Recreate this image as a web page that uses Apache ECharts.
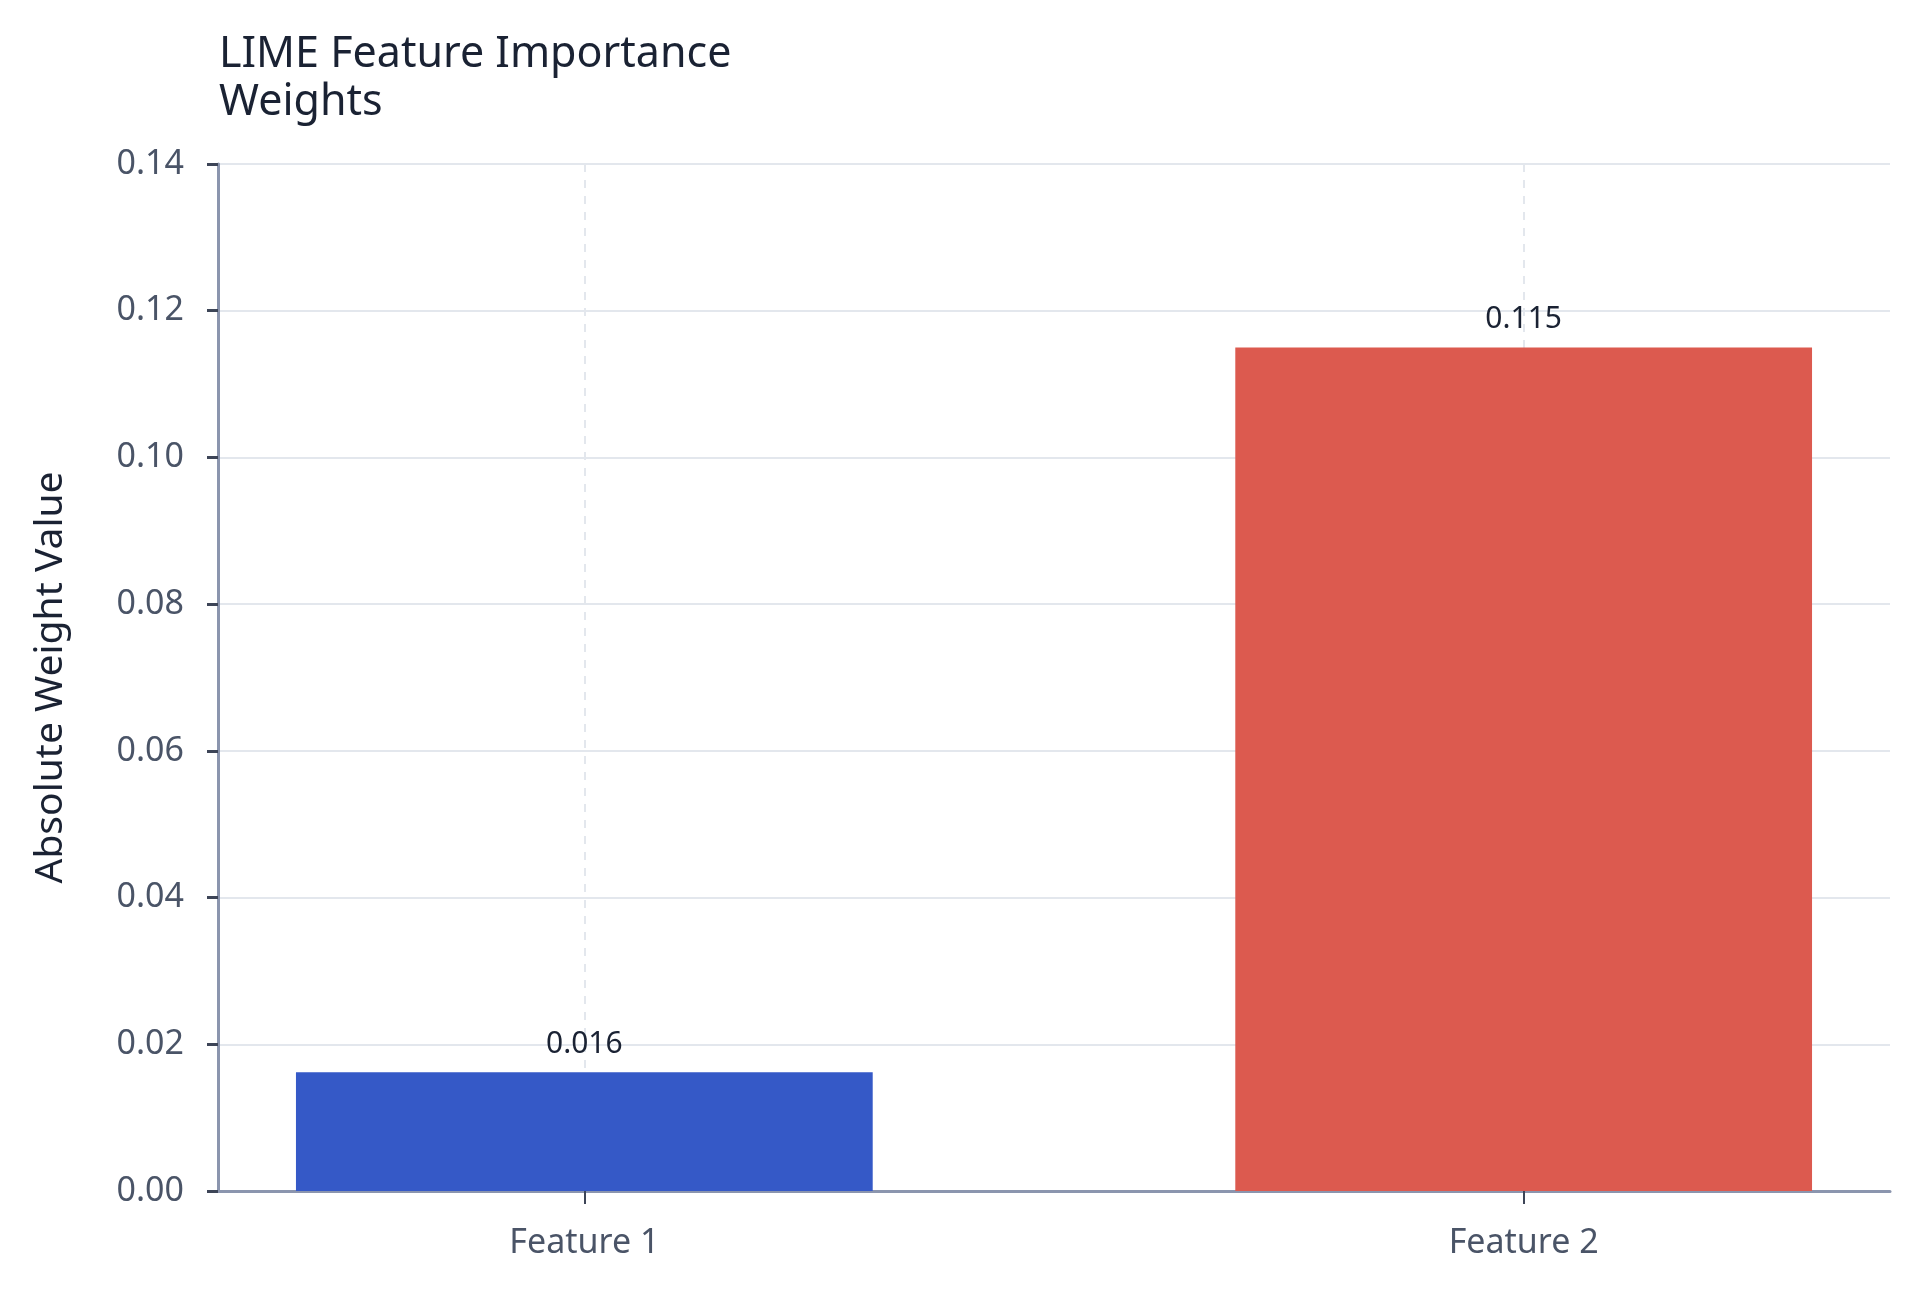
<!DOCTYPE html>
<html>
<head>
<meta charset="utf-8">
<script src="https://cdn.jsdelivr.net/npm/echarts@6/dist/echarts.min.js"></script>
<style>
  html, body { margin: 0; padding: 0; background: #ffffff; }
  #chart { width: 1920px; height: 1292px; }
</style>
</head>
<body>
<div id="chart"></div>
<script>
const titleText = 'LIME Feature Importance\nWeights';
const categories = ['Feature 1', 'Feature 2'];
const weights = [0.0162, 0.115];
const barColors = ['#3559c7', '#dc5a4f'];
const yTicks = [0, 0.02, 0.04, 0.06, 0.08, 0.10, 0.12, 0.14];

const chart = echarts.init(document.getElementById('chart'), null, { renderer: 'canvas' });

const barData = categories.map((c, i) => ({
  value: [i, weights[i]],
  itemStyle: { color: barColors[i] }
}));

const option = {
  backgroundColor: '#ffffff',
  animation: false,
  title: {
    text: titleText,
    left: 214,
    top: 26,
    textStyle: {
      fontFamily: 'Noto Sans',
      fontSize: 43,
      fontWeight: 'normal',
      color: '#1a2233',
      lineHeight: 48
    }
  },
  grid: { left: 218, right: 30, top: 164, bottom: 101, containLabel: false },
  xAxis: {
    type: 'value',
    min: -0.39,
    max: 1.39,
    axisLine: { show: true, onZero: false, lineStyle: { color: '#8b95ae', width: 3 } },
    axisTick: {
      show: true, length: 13, inside: false,
      customValues: categories.map((c, i) => i),
      lineStyle: { color: '#3d4557', width: 2 }
    },
    axisLabel: {
      customValues: categories.map((c, i) => i),
      formatter: v => categories[Math.round(v)] || '',
      margin: 35,
      fontFamily: 'Noto Sans',
      fontSize: 34,
      color: '#4a5467'
    },
    splitLine: { show: true, lineStyle: { color: '#e3e7ed', width: 2, type: [8, 8] } }
  },
  yAxis: {
    type: 'value',
    min: yTicks[0],
    max: yTicks[yTicks.length - 1],
    interval: 0.02,
    name: 'Absolute Weight Value',
    nameLocation: 'middle',
    nameGap: 148,
    nameRotate: 90,
    nameTextStyle: { fontFamily: 'Noto Sans', fontSize: 39, color: '#1a2233' },
    axisLine: { show: true, onZero: false, lineStyle: { color: '#8b95ae', width: 3 } },
    axisTick: { show: true, length: 11, lineStyle: { color: '#3d4557', width: 3 } },
    axisLabel: {
      formatter: v => v.toFixed(2),
      margin: 34,
      fontFamily: 'Noto Sans',
      fontSize: 34,
      color: '#4a5467'
    },
    splitLine: { show: true, lineStyle: { color: '#e3e7ed', width: 2 } }
  },
  series: [{
    type: 'bar',
    data: barData,
    barWidth: '61.4%',
    label: {
      show: true,
      position: 'top',
      distance: 13,
      formatter: p => p.value[1].toFixed(3),
      fontFamily: 'Noto Sans',
      fontSize: 30,
      color: '#1a2233'
    }
  }]
};
chart.setOption(option);
</script>
</body>
</html>
